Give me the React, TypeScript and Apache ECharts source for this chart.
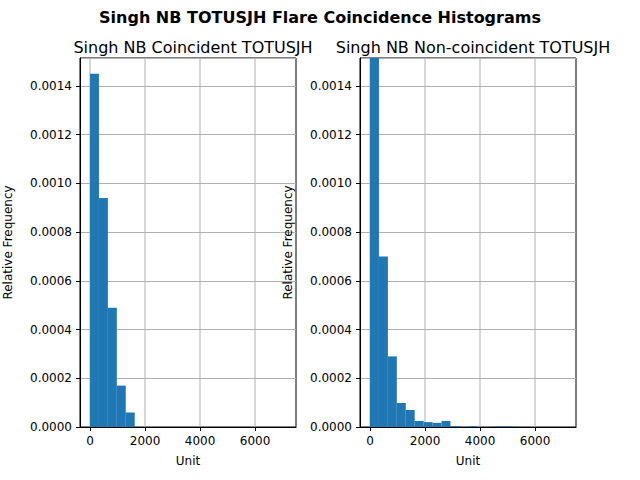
import React, { useEffect, useRef } from "react";
import * as echarts from "echarts";

const binWidth = 325;
const leftValues = [0.00145, 0.00094, 0.00049, 0.00017, 0.00006];
const rightValues = [0.00156, 0.0007, 0.00029, 0.0000986, 0.00007, 0.0000246, 0.00002, 0.000017, 0.000025, 0.000004, 0, 0.000003, 0, 0, 0.000003, 0.000003];
const xTicks = [0, 2000, 4000, 6000];

const toBars = (vals: number[]) => vals.map((v, i) => [i * binWidth, (i + 1) * binWidth, v]);

export default function App() {
  const ref = useRef<HTMLDivElement>(null);
  useEffect(() => {
    const chart = echarts.init(ref.current!, null, { renderer: "svg" });
    const grids = [
      { left: 80, width: 216, top: 58, height: 369 },
      { left: 360, width: 216, top: 58, height: 369 },
    ];
    const font = "DejaVu Sans";
    const axisCommon = {
      axisLine: { show: true, onZero: false, lineStyle: { color: "#000" } },
      axisTick: { show: true, length: 4, lineStyle: { color: "#000" } },
      axisLabel: { color: "#000", fontSize: 12, fontFamily: font },
      splitLine: { show: true, lineStyle: { color: "#b0b0b0" } },
      nameTextStyle: { color: "#000", fontSize: 12, fontFamily: font },
    };
    const xAxes = [0, 1].map((i) => ({
      ...axisCommon,
      type: "value",
      gridIndex: i,
      min: -364,
      max: 7490,
      name: "Unit",
      nameLocation: "middle",
      nameGap: 28,
      axisLabel: {
        ...axisCommon.axisLabel,
        customValues: xTicks,
        formatter: (v: number) => String(v),
      },
      axisTick: { ...axisCommon.axisTick, customValues: xTicks },
      splitLine: { show: false },
    }));
    const yAxes = [0, 1].map((i) => ({
      ...axisCommon,
      type: "value",
      gridIndex: i,
      min: 0,
      max: 0.001515,
      interval: 0.0002,
      name: "Relative Frequency",
      nameLocation: "middle",
      nameGap: 66,
      axisLabel: { ...axisCommon.axisLabel, showMaxLabel: false, formatter: (v: number) => v.toFixed(4) },
    }));
    const renderItem = (params: any, api: any) => {
      const p0 = api.coord([api.value(0), api.value(2)]);
      const p1 = api.coord([api.value(1), 0]);
      return {
        type: "rect",
        shape: { x: p0[0], y: p0[1], width: p1[0] - p0[0], height: p1[1] - p0[1] },
        style: { fill: "#1f77b4", lineWidth: 0 },
      };
    };
    const gridLine = (params: any, api: any) => {
      const p = api.coord([api.value(0), 0]);
      const cs = params.coordSys;
      return {
        type: "line",
        shape: { x1: p[0], y1: cs.y, x2: p[0], y2: cs.y + cs.height },
        style: { stroke: "#b0b0b0", lineWidth: 1 },
      };
    };
    chart.setOption({
      animation: false,
      title: [
        { text: "Singh NB TOTUSJH Flare Coincidence Histograms", left: "center", top: 4, textStyle: { fontSize: 16, fontWeight: "bold", color: "#000", fontFamily: font } },
        { text: "Singh NB Coincident TOTUSJH", left: 188, textAlign: "center", top: 34, textStyle: { fontSize: 16, fontWeight: "normal", color: "#000", fontFamily: font } },
        { text: "Singh NB Non-coincident TOTUSJH", left: 468, textAlign: "center", top: 34, textStyle: { fontSize: 16, fontWeight: "normal", color: "#000", fontFamily: font } },
      ],
      grid: grids.map((g) => ({ ...g, show: true, borderColor: "#000", borderWidth: 1, backgroundColor: "transparent" })),
      xAxis: xAxes,
      yAxis: yAxes,
      series: [
        { type: "custom", xAxisIndex: 0, yAxisIndex: 0, renderItem: gridLine, data: xTicks.map((t) => [t]), encode: { x: 0 }, z: 1, silent: true },
        { type: "custom", xAxisIndex: 1, yAxisIndex: 1, renderItem: gridLine, data: xTicks.map((t) => [t]), encode: { x: 0 }, z: 1, silent: true },
        { type: "custom", xAxisIndex: 0, yAxisIndex: 0, renderItem, clip: true, data: toBars(leftValues), encode: { x: [0, 1], y: 2 }, z: 2 },
        { type: "custom", xAxisIndex: 1, yAxisIndex: 1, renderItem, clip: true, data: toBars(rightValues), encode: { x: [0, 1], y: 2 }, z: 2 },
      ],
    } as any);
    return () => chart.dispose();
  }, []);
  return <div ref={ref} style={{ position: "absolute", left: 0, top: 0, width: 640, height: 480 }} />;
}
